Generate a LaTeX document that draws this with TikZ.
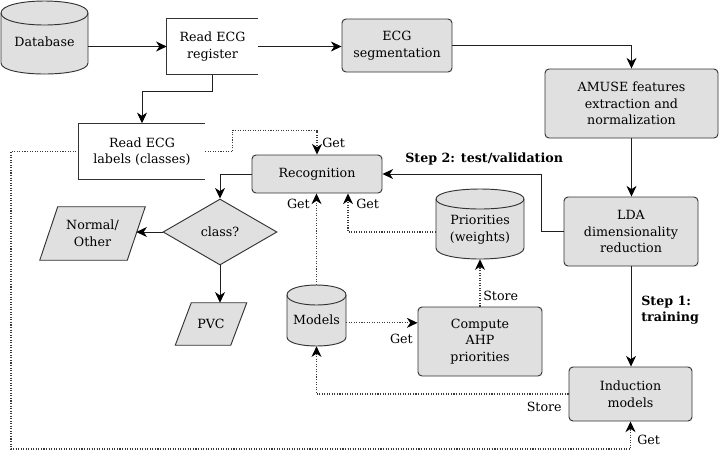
\documentclass[tikz,border=0pt]{standalone}
\usepackage{fontspec}
\setmainfont{DejaVu Serif}
\usetikzlibrary{shapes.geometric,arrows.meta,calc}
\newdimen\pxu \pxu=0.75pt
\definecolor{gfill}{HTML}{E0E0E0}
\definecolor{lc}{HTML}{333333}
\definecolor{dc}{HTML}{3A3A3A}
\newcommand\drawcyl[6]{%
  \filldraw[shp] (#1,#3) .. controls (#1,#3-4/3*#4) and (#2,#3-4/3*#4) .. (#2,#3) -- (#2,#5) .. controls (#2,#5+4/3*#6) and (#1,#5+4/3*#6) .. (#1,#5) -- cycle;
  \draw[shp,fill=none] (#1,#3) .. controls (#1,#3+4/3*#4) and (#2,#3+4/3*#4) .. (#2,#3);}
\newcommand\lowtext[1]{\raisebox{-4.1pt}[\height][\depth]{\begin{tabular}{@{}c@{}}#1\end{tabular}}}
\begin{document}
\begin{tikzpicture}[x=0.75pt,y=-0.75pt,
  font=\fontsize{9.5}{12.4}\selectfont,
  every node/.style={inner sep=0pt, align=center},
  shp/.style={draw=lc, fill=gfill, line width=0.7pt},
  rbox/.style={shp, rounded corners=4\pxu},
  ghost/.style={draw=none, fill=none},
  tip/.style={-{Stealth[length=8pt,width=7.5pt,inset=2.5pt,fill=black,color=black]}},
  conn/.style={draw=black!88, line width=0.7pt, tip},
  dconn/.style={draw=dc, line width=0.8pt, dash pattern=on 0.8pt off 1.1pt, tip},
  lbl/.style={font=\fontsize{9.5}{12.4}\selectfont},
  steplbl/.style={font=\fontsize{9.5}{12.4}\selectfont\bfseries, align=left}]
\useasboundingbox (0,0) rectangle (720,451);
\fill[white] (0,0) rectangle (720,451);

% cylinders
\drawcyl{1}{88}{13}{12}{63}{11}
\node[ghost, minimum width=87\pxu, minimum height=73\pxu] (db) at (44.5,37.5) {\lowtext{Database}};
\drawcyl{436}{524}{199}{10}{248}{11}
\node[ghost, minimum width=88\pxu, minimum height=70\pxu] (prio) at (480,224) {\lowtext{Priorities\\(weights)}};
\drawcyl{287}{346}{295}{10}{337}{9}
\node[ghost, minimum width=59\pxu, minimum height=61\pxu] (models) at (316.5,315.5) {\lowtext{Models}};

% open boxes
\node[ghost, minimum width=91\pxu, minimum height=56\pxu] (reg) at (212.5,46.5) {Read ECG\\register};
\draw[draw=lc, line width=0.7pt] (reg.north east) -- (reg.north west) -- (reg.south west) -- (reg.south east);
\node[ghost, minimum width=126\pxu, minimum height=56\pxu] (lab) at (142,151.5) {Read ECG\\labels (classes)};
\draw[draw=lc, line width=0.7pt] (lab.north east) -- (lab.north west) -- (lab.south west) -- (lab.south east);

% rounded boxes
\node[rbox, minimum width=110\pxu, minimum height=53\pxu] (seg) at (397,45.5) {ECG\\segmentation};
\node[rbox, minimum width=173\pxu, minimum height=69\pxu] (amuse) at (631.5,103.5) {AMUSE features\\extraction and\\normalization};
\node[rbox, minimum width=134\pxu, minimum height=69\pxu] (lda) at (631,231.5) {LDA\\dimensionality\\reduction};
\node[rbox, minimum width=130\pxu, minimum height=38\pxu] (recog) at (317,174) {Recognition};
\node[rbox, minimum width=124\pxu, minimum height=69\pxu] (ahp) at (480,341.5) {Compute\\AHP\\priorities};
\node[rbox, minimum width=123\pxu, minimum height=54\pxu] (ind) at (630.5,394) {Induction\\models};

% decision
\node[shp, diamond, minimum width=114\pxu, minimum height=66\pxu, aspect=1.73] (cls) at (220,232) {class?};

% parallelograms
\node[ghost, minimum width=87\pxu, minimum height=53\pxu] (normal) at (92.5,233.5) {};
\filldraw[shp] ($(normal.north west)+(9,0)$) -- ($(normal.north east)+(9,0)$) -- ($(normal.south east)+(-9,0)$) -- ($(normal.south west)+(-9,0)$) -- cycle;
\node[ghost] (normalt) at (normal) {Normal/\\Other};
\node[ghost, minimum width=55\pxu, minimum height=42\pxu] (pvc) at (211,324) {};
\filldraw[shp] ($(pvc.north west)+(8,0)$) -- ($(pvc.north east)+(8,0)$) -- ($(pvc.south east)+(-8,0)$) -- ($(pvc.south west)+(-8,0)$) -- cycle;
\node[ghost] (pvct) at (pvc) {PVC};

% solid connectors
\draw[conn] (db.east |- reg.west) -- (reg.west);
\draw[conn] (reg.east) -- (reg.east -| seg.west);
\draw[conn] (seg.east) -| (amuse.north);
\draw[conn] (reg.south) -- ++(0,17) -| (lab.north);
\draw[conn] (amuse.south) -- (amuse.south |- lda.north);
\draw[conn] (lda.west) -- ++(-22,0) |- (recog.east);
\draw[conn] (lda.south) -- (lda.south |- ind.north);
\draw[conn] (recog.west) -| (cls.north);
\draw[conn] (cls.west) -- (cls.west -| normal.east);
\draw[conn] (cls.south) -- (cls.south |- pvc.north);

\node[steplbl, anchor=west] (step2) at (405,159) {Step 2: test/validation};
\node[steplbl, anchor=west] (step1) at (641,310) {Step 1:\\training};

% dotted connectors
\coordinate (bot) at (11,449);
\draw[dconn] (lab.east) -- ++(27,0) |- ($(recog.north)+(0,-24)$) -- (recog.north);
\node[lbl, anchor=west] (g1) at (322,143) {Get};
\draw[dconn] (lab.west) -| (bot) -| (ind.south);
\node[lbl, anchor=west] (g2) at (637,440) {Get};
\draw[dconn] (models.north) -- (models.north |- recog.south);
\node[lbl, anchor=east] (g3) at (310,204) {Get};
\draw[dconn] ([yshift=-6pt]prio.west) -| ($(recog.south)+(31,0)$);
\node[lbl, anchor=west] (g4) at (356,204) {Get};
\draw[dconn] ([yshift=-5.5pt]models.east) -- ([yshift=-5.5pt]models.east -| ahp.west);
\node[lbl, anchor=east] (g5) at (413,339) {Get};
\draw[dconn] (ahp.north) -- (ahp.north |- prio.south);
\node[lbl, anchor=west] (s1) at (483,296) {Store};
\draw[dconn] (ind.west) -| (models.south);
\node[lbl, anchor=east] (s2) at (562,407) {Store};
\end{tikzpicture}
\end{document}
